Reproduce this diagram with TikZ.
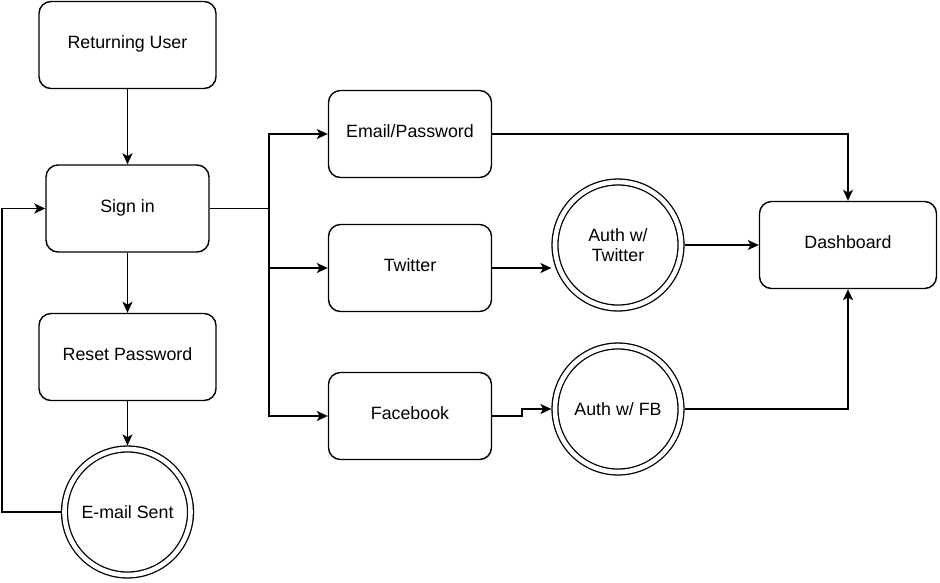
\documentclass[tikz,border=0pt]{standalone}
\usepackage{fontspec}
\setmainfont{Liberation Sans}
\usetikzlibrary{calc,arrows.meta,positioning}
\newcommand{\lblfont}{\fontsize{17.8}{20.5}\selectfont}

\begin{document}
\begin{tikzpicture} [x=1pt,y=-1pt,{block/.style={rectangle,draw=black,rounded corners=12pt,line width=1.4pt,minimum width=163pt,minimum height=87pt,inner sep=2pt,font=\lblfont,text height=12.8pt,text depth=5pt}},{wideblock/.style={block,minimum width=177pt}},{state/.style={circle,draw=black,line width=1.3pt,double,double distance=4.6pt,minimum size=126pt,inner sep=1pt,outer sep=3.6pt,font=\lblfont,align=center}},{linest/.style={color=black,line width=1.4pt}},{arr/.style={linest,-{Stealth[length=11pt,width=10pt,inset=2.8pt]}}}]
	\useasboundingbox (0,0) rectangle (940,582);
	%%left column
	\node [wideblock] (ret) at (127.5,45) {Returning User};
	\node [block] (sign) at (127.5,208.5) {Sign in};
	\node [wideblock] (reset) at (127.5,357) {Reset Password};
	\node [state] (sent) at (127.5,512) {E-mail Sent};
	%%sign in options
	\node [block] (email) at (410,134) {Email/Password};
	\node [block] (twit) at (410,268) {Twitter};
	\node [block] (fb) at (410,416) {Facebook};
	%%auth states
	\node [state] (authtw) at (618,245) {Auth w/\\Twitter};
	\node [state] (authfb) at (618,409) {Auth w/ FB};
	\node [wideblock] (dash) at (848,245) {Dashboard};
	%%helper points
	\coordinate (loopL) at (2,512);
	\coordinate (fork) at (269,208.5);
	\coordinate (jog) at (522,416);
	%%connectors
	\draw [arr] (ret) -- (sign);
	\draw [arr] (sign) -- (reset);
	\draw [arr] (reset) -- (sent);
	\draw [arr] (sent.west) -- (loopL) |- (sign.west);
	\draw [linest] (sign.east) -- (fork);
	\draw [arr] (fork) |- (email.west);
	\draw [arr] (fork) |- (twit.west);
	\draw [arr] (fork) |- (fb.west);
	\draw [arr] (email.east) -| (dash.north);
	\draw [arr] (twit.east) -- (authtw.west |- twit.east);
	\draw [arr] (authtw.east) -- (dash.west);
	\draw [arr] (fb.east) -- (jog) |- (authfb.west);
	\draw [arr] (authfb.east) -| (dash.south);
\end{tikzpicture}
\end{document}
